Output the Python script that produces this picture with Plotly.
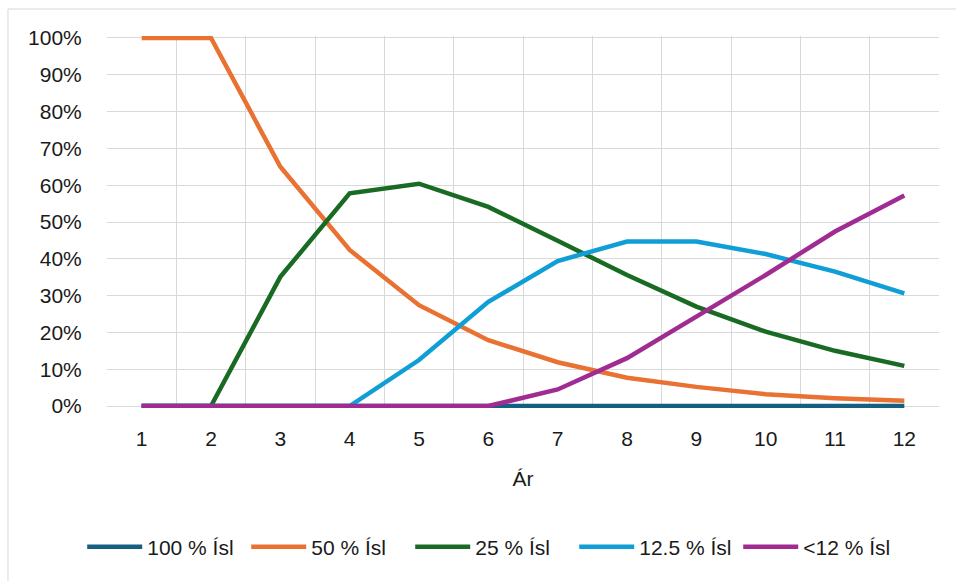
import plotly.graph_objects as go

years = [1, 2, 3, 4, 5, 6, 7, 8, 9, 10, 11, 12]

series_names = ["100 % Ísl", "50 % Ísl", "25 % Ísl", "12.5 % Ísl", "<12 % Ísl"]
share_100 = [0, 0, 0, 0, 0, 0, 0, 0, 0, 0, 0, 0]
share_50 = [1.0, 1.0, 0.65, 0.424, 0.274, 0.179, 0.119, 0.077, 0.052, 0.032, 0.021, 0.014]
share_25 = [0, 0, 0.351, 0.578, 0.604, 0.541, 0.449, 0.356, 0.27, 0.202, 0.15, 0.109]
share_125 = [0, 0, 0, 0, 0.125, 0.283, 0.394, 0.447, 0.447, 0.413, 0.365, 0.306]
share_lt12 = [0, 0, 0, 0, 0, 0, 0.045, 0.13, 0.243, 0.356, 0.474, 0.572]

colors = ["#156082", "#E97132", "#196B24", "#0F9ED5", "#A02B93"]
y_ticks = [i / 10 for i in range(11)]
y_tick_text = [f"{i * 10}%" for i in range(11)]

FONT = "Liberation Sans, Arial, sans-serif"
GRID = "#D9D9D9"
PAD = 0.0054  # small headroom so lines at 0% and 100% are not clipped

fig = go.Figure()
for name, vals, col in zip(series_names,
                           [share_100, share_50, share_25, share_125, share_lt12],
                           colors):
    fig.add_trace(go.Scatter(
        x=years, y=vals, name=name, mode="lines",
        line=dict(color=col, width=4.5),
        hovertemplate="%{x}: %{y:.1%}<extra>" + name + "</extra>",
    ))

# outer chart frame
fig.add_shape(type="rect", xref="paper", yref="paper",
              x0=-0.119, x1=1.05, y0=-0.55, y1=1.0726,
              line=dict(color=GRID, width=1), fillcolor="rgba(0,0,0,0)",
              layer="below")

fig.update_layout(
    width=956, height=581,
    margin=dict(l=107, r=17, t=36, b=173, autoexpand=False),
    paper_bgcolor="white", plot_bgcolor="white",
    font=dict(family=FONT, size=21, color="#1a1a1a"),
    showlegend=True,
    legend=dict(orientation="h", x=0.463, xanchor="center",
                y=-0.374, yanchor="middle",
                font=dict(family=FONT, size=21, color="#1a1a1a"),
                itemwidth=55, entrywidth=94, entrywidthmode="pixels",
                traceorder="normal"),
    xaxis=dict(
        range=[0.5, 12.5], tickvals=years, ticktext=[str(y) for y in years],
        showgrid=False, zeroline=False, showline=False,
        ticks="outside", ticklen=12, tickcolor="rgba(0,0,0,0)",
        minor=dict(tick0=0.5, dtick=1, showgrid=True, gridcolor=GRID, gridwidth=1),
        title=dict(text="Ár", standoff=22, font=dict(size=21)),
        fixedrange=True,
    ),
    yaxis=dict(
        range=[-PAD, 1 + PAD], tickvals=y_ticks, ticktext=y_tick_text,
        showgrid=True, gridcolor=GRID, gridwidth=1, zeroline=False,
        showline=False,
        ticks="outside", ticklen=20, tickcolor="rgba(0,0,0,0)",
        fixedrange=True,
    ),
)

fig.write_html("out.html")
